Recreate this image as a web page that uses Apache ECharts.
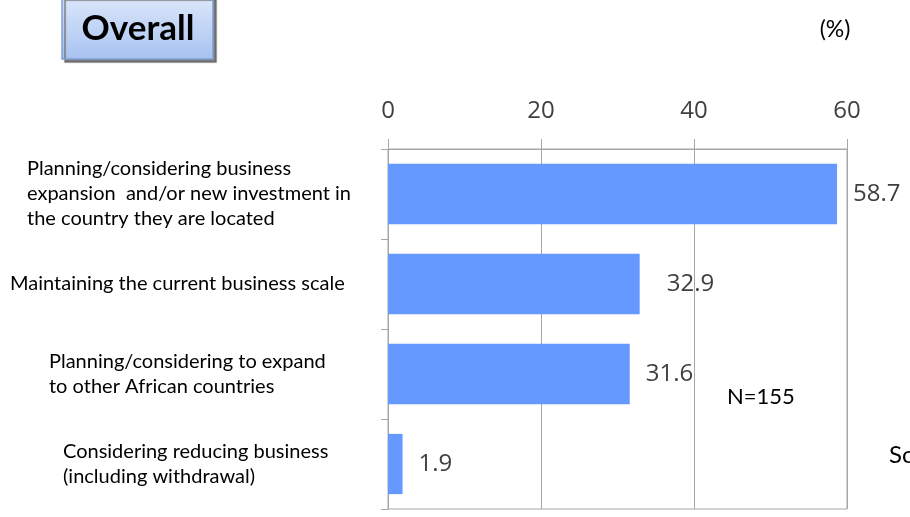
<!DOCTYPE html>
<html>
<head>
<meta charset="utf-8">
<script src="https://cdn.jsdelivr.net/npm/echarts@6/dist/echarts.min.js"></script>
<style>
  html, body { margin: 0; padding: 0; background: #fff; }
  #chart { width: 910px; height: 517px; }
</style>
</head>
<body>
<div id="chart"></div>
<script>
// Survey answers (top to bottom) and their shares in percent
const categories = [
  'Planning/considering business\nexpansion  and/or new investment in\nthe country they are located',
  'Maintaining the current business scale',
  'Planning/considering to expand\nto other African countries',
  'Considering reducing business\n(including withdrawal)'
];
const shares = [58.7, 32.9, 31.6, 1.9];
const axisTicks = [0, 20, 40, 60];

// Per-answer indent of the left-hand text blocks
const labelIndent = [17, 0, 39, 53];

const gridColor = '#a6a6a6';
const textFont = 'Lato, "Open Sans", sans-serif';
const numFont = '"Open Sans", "Noto Sans", sans-serif';

const rich = {};
labelIndent.forEach((pad, i) => {
  rich['c' + i] = {
    fontFamily: textFont, fontSize: 20, color: '#000',
    lineHeight: 25, padding: [0, 0, 0, pad], align: 'left'
  };
});

const chart = echarts.init(document.getElementById('chart'), null, { renderer: 'canvas' });

chart.setOption({
  animation: false,
  backgroundColor: '#fff',
  grid: {
    left: 388, right: 63, top: 149, bottom: 8,
    show: true, borderColor: gridColor, borderWidth: 1, backgroundColor: 'transparent'
  },
  xAxis: {
    type: 'value',
    position: 'top',
    min: axisTicks[0],
    max: axisTicks[axisTicks.length - 1],
    interval: axisTicks[1] - axisTicks[0],
    axisLine: { show: true, lineStyle: { color: gridColor, width: 1 } },
    axisTick: { show: true, inside: false, length: 10, lineStyle: { color: gridColor } },
    axisLabel: { fontFamily: numFont, fontSize: 24, color: '#404040', margin: 26 },
    splitLine: { show: true, lineStyle: { color: gridColor, width: 1 } }
  },
  yAxis: {
    type: 'category',
    inverse: true,
    data: categories,
    axisLine: { show: true, lineStyle: { color: gridColor, width: 1 } },
    axisTick: { show: true, length: 7, lineStyle: { color: gridColor } },
    axisLabel: {
      align: 'left',
      margin: 378,
      formatter: (value, index) =>
        value.split('\n').map(line => '{c' + index + '|' + line + '}').join('\n'),
      rich: rich
    }
  },
  series: [{
    type: 'bar',
    data: shares.map((v, i) => i === 1
      ? { value: v, label: { offset: [11, 0] } }
      : v),
    barCategoryGap: '33%',
    itemStyle: { color: '#6699ff' },
    label: {
      show: true,
      position: 'right',
      distance: 16,
      fontFamily: numFont,
      fontSize: 24,
      color: '#404040',
      formatter: p => p.value.toFixed(1)
    }
  }],
  graphic: [
    {
      type: 'rect',
      shape: { x: 62, y: -3, width: 151, height: 62 },
      style: {
        fill: new echarts.graphic.LinearGradient(0, 0, 0, 1, [
          { offset: 0, color: '#dce7fb' },
          { offset: 1, color: '#a7c2f0' }
        ]),
        stroke: '#7f9fd6',
        lineWidth: 1.5,
        shadowColor: 'rgba(100,100,100,0.85)',
        shadowOffsetX: 3,
        shadowOffsetY: 3,
        shadowBlur: 1
      }
    },
    {
      type: 'text',
      x: 138, y: 29,
      style: {
        text: 'Overall', fontFamily: textFont, fontWeight: 'bold', fontSize: 35,
        fill: '#000', align: 'center', verticalAlign: 'middle'
      }
    },
    {
      type: 'text',
      x: 835, y: 30,
      style: {
        text: '(%)', fontFamily: textFont, fontSize: 23,
        fill: '#000', align: 'center', verticalAlign: 'middle'
      }
    },
    {
      type: 'text',
      x: 727, y: 397,
      style: {
        text: 'N=155', fontFamily: textFont, fontSize: 22,
        fill: '#000', align: 'left', verticalAlign: 'middle'
      }
    },
    {
      type: 'text',
      x: 889, y: 455,
      style: {
        text: 'Source:', fontFamily: textFont, fontSize: 24,
        fill: '#000', align: 'left', verticalAlign: 'middle'
      }
    }
  ]
});
</script>
</body>
</html>
